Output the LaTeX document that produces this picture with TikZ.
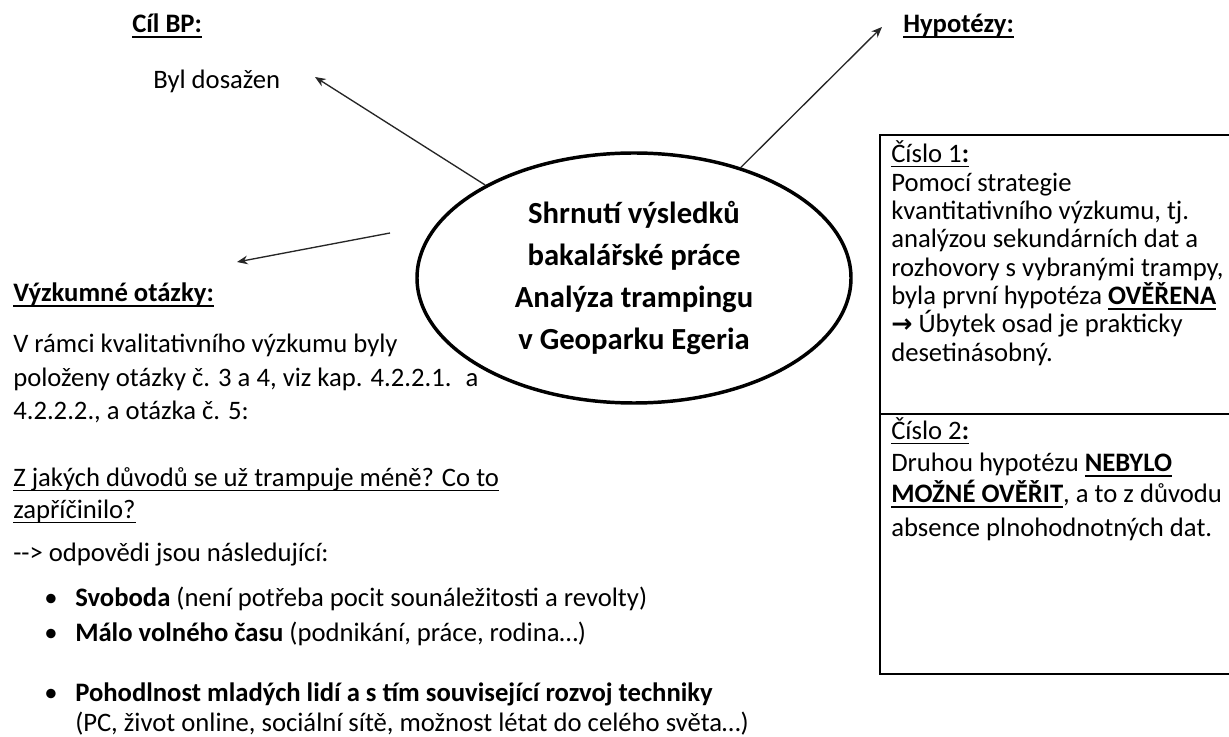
\documentclass[tikz,border=0pt]{standalone}
\usepackage{fontspec}
\setmainfont{Carlito}
\newfontfamily\arrowfont{DejaVu Sans}
\usetikzlibrary{shapes.geometric,arrows.meta}
\newcommand\myul[1]{\setbox0=\hbox{#1}\rlap{\rule[-0.15em]{\wd0}{0.055em}}\box0}
\newcommand\myulb[1]{\setbox0=\hbox{\bfseries #1}\rlap{\rule[-0.18em]{\wd0}{0.075em}}\box0}
\begin{document}
\begin{tikzpicture}[x=0.75pt,y=-0.75pt,
  txt/.style={anchor=base west,inner sep=0pt,font=\fontsize{20}{24}\selectfont},
  conn/.style={line width=1pt,draw=black!85,-{Stealth[length=8pt,width=6.5pt]}},
  centre/.style={ellipse,draw,line width=2.6pt,fill=white,minimum width=325.5pt,minimum height=187.5pt,
    inner sep=0pt,align=center,font=\bfseries\fontsize{23}{31.5}\selectfont},
  hypbox/.style={line width=1.1pt}]
\fill[white] (0,0) rectangle (1229,737);
\useasboundingbox (0,0) rectangle (1229,737);

% central ellipse
\node[centre] (ell) at (634,278) {Shrnutí výsledků\\bakalářské práce\\Analýza trampingu\\v Geoparku Egeria};

% top left
\node[txt] (cil) at (132,33) {\myulb{Cíl BP:}};
\node[txt] (byl) at (153,89) {Byl dosažen};

% top right
\node[txt] (hyp) at (903,33) {\myulb{Hypotézy:}};

% left block
\node[txt] (vo) at (13,302) {\myulb{Výzkumné otázky:}};
\node[txt] (l1) at (13,353) {V rámci kvalitativního výzkumu byly};
\node[txt] (l2) at (13,387) {položeny otázky č. 3 a 4, viz kap. 4.2.2.1.~ a};
\node[txt] (l3) at (13,420) {4.2.2.2., a otázka č. 5:};
\node[txt] (q1) at (13,487) {\myul{Z jakých důvodů se už trampuje méně? Co to}};
\node[txt] (q2) at (13,519) {\myul{zapříčinilo?}};
\node[txt] (odp) at (13,562) {-{}-{}> odpovědi jsou následující:};
\node[txt] (b1) at (44,607) {\textbullet};
\node[txt] (t1) at (75,607) {\textbf{Svoboda} (není potřeba pocit sounáležitosti a revolty)};
\node[txt] (b2) at (44,642) {\textbullet};
\node[txt] (t2) at (75,642) {\textbf{Málo volného času} (podnikání, práce, rodina…)};
\node[txt] (b3) at (44,702) {\textbullet};
\node[txt] (t3) at (75,702) {\textbf{Pohodlnost mladých lidí a s tím související rozvoj techniky}};
\node[txt] (t4) at (75,731) {(PC, život online, sociální sítě, možnost létat do celého světa…)};

% hypothesis box
\draw[hypbox] (880,135) rectangle (1260,674);
\draw[hypbox] (880,414) -- (1260,414);
\node[txt] (c1) at (891,163) {\myul{Číslo 1\textbf{:}}};
\node[txt] (h1) at (891,192) {Pomocí strategie};
\node[txt] (h2) at (891,220) {kvantitativního výzkumu, tj.};
\node[txt] (h3) at (891,248) {analýzou sekundárních dat a};
\node[txt] (h4) at (891,277) {rozhovory s vybranými trampy,};
\node[txt] (h5) at (891,305) {byla první hypotéza \myulb{OVĚŘENA}};
\node[txt] (h6) at (891,333) {{\arrowfont\bfseries\fontsize{19}{20}\selectfont →} Úbytek osad je prakticky};
\node[txt] (h7) at (891,362) {desetinásobný.};
\node[txt] (c2) at (891,440) {\myul{Číslo 2\textbf{:}}};
\node[txt] (k1) at (891,472) {Druhou hypotézu \myulb{NEBYLO}};
\node[txt] (k2) at (891,503) {\myulb{MOŽNÉ OVĚŘIT}, a to z důvodu};
\node[txt] (k3) at (891,537) {absence plnohodnotných dat.};

% connectors
\coordinate (tipcil) at (315,77);
\coordinate (tiphyp) at (882,27);
\coordinate (startvo) at (390,233);
\coordinate (tipvo) at (237,262);
\draw[conn] (ell.148) -- (tipcil);
\draw[conn] (ell.46) -- (tiphyp);
\draw[conn] (startvo) -- (tipvo);
\end{tikzpicture}
\end{document}
